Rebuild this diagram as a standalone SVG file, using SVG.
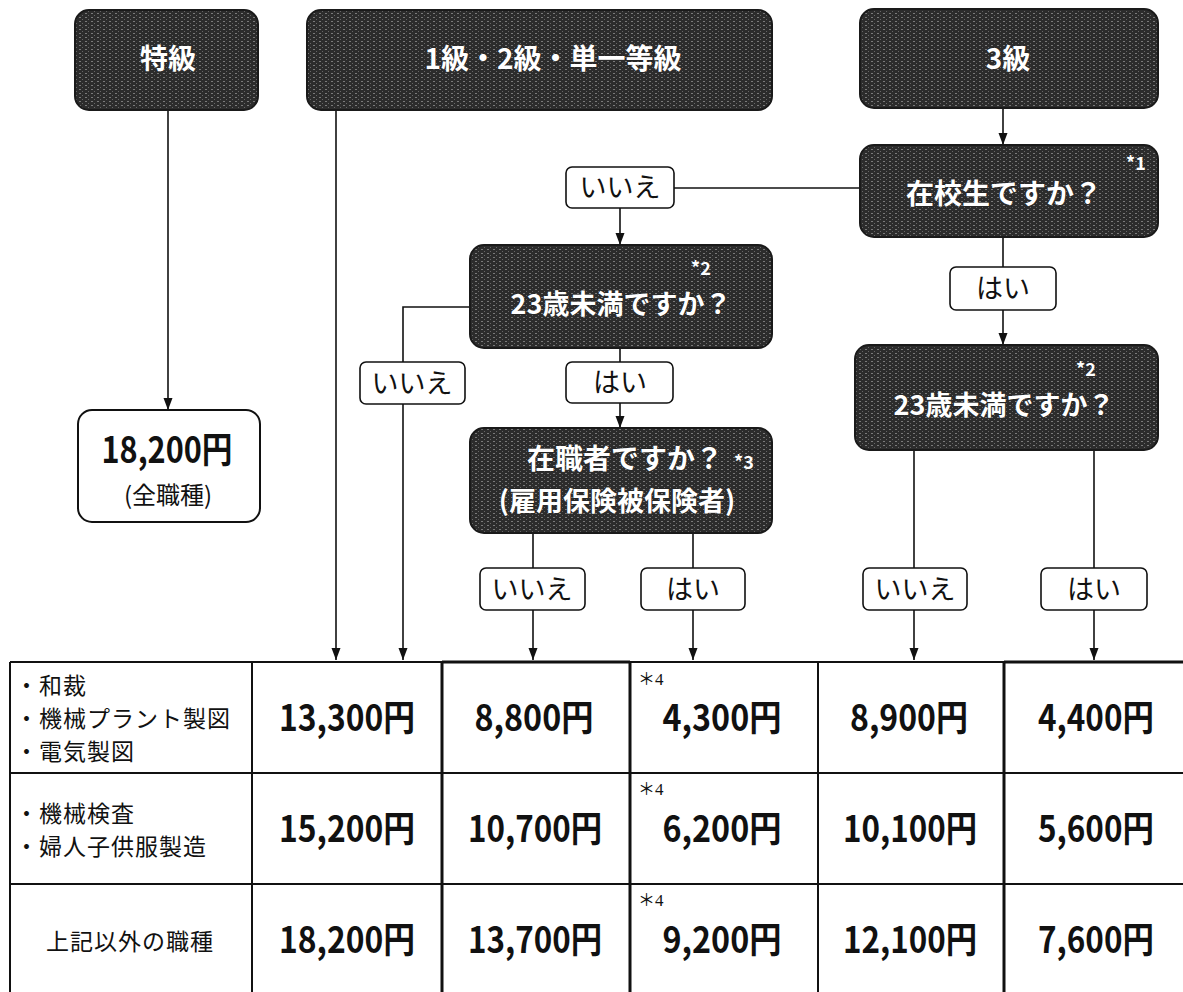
<svg xmlns="http://www.w3.org/2000/svg" width="1183" height="992" viewBox="0 0 1183 992">
<defs>
<pattern id="tex" width="6" height="4" patternUnits="userSpaceOnUse">
<rect width="6" height="4" fill="#2c2c2c"/>
<rect x="1" y="1" width="2" height="1" fill="#7a7a7a"/>
<rect x="4" y="3" width="1" height="1" fill="#666"/>
</pattern>
<marker id="ar" markerWidth="12" markerHeight="10" refX="12" refY="5" orient="auto" markerUnits="userSpaceOnUse" viewBox="0 0 12 10">
<path d="M0,0.5 L12,5 L0,9.5 z" fill="#111"/>
</marker>
<style>
.dark{fill:url(#tex);stroke:#1a1a1a;stroke-width:2}
.wt{font-family:"Noto Sans CJK JP",sans-serif;font-weight:bold;fill:#fff;stroke:#222;stroke-width:0.8;paint-order:stroke;text-anchor:middle}
.note{font-family:"Noto Sans CJK JP",sans-serif;font-weight:bold;fill:#fff;font-size:18px}
.lbl{fill:#fff;stroke:#111;stroke-width:1.6}
.lt{font-family:"Noto Sans CJK JP",sans-serif;font-size:27px;fill:#111;text-anchor:middle}
.ln{fill:none;stroke:#111;stroke-width:1.6}
.val{font-family:"Noto Sans CJK JP",sans-serif;font-weight:bold;font-size:36px;fill:#111;text-anchor:middle}
.rt{font-family:"Noto Sans CJK JP",sans-serif;font-size:23px;letter-spacing:1px;fill:#111}
.ast{font-family:"Liberation Serif","Noto Sans CJK JP",serif;font-size:17px;fill:#111}
.tb{stroke:#111;fill:none}
</style>
</defs>
<rect width="1183" height="992" fill="#fff"/>

<g id="connectors">
<path class="ln" d="M168,110 V410" marker-end="url(#ar)"/>
<path class="ln" d="M336,110 V660" marker-end="url(#ar)"/>
<path class="ln" d="M674,188 H859"/>
<path class="ln" d="M620,208 V245" marker-end="url(#ar)"/>
<path class="ln" d="M470,307 H403 V362"/>
<path class="ln" d="M403,404 V660" marker-end="url(#ar)"/>
<path class="ln" d="M620,348 V362"/>
<path class="ln" d="M620,403 V428" marker-end="url(#ar)"/>
<path class="ln" d="M533,533 V568"/>
<path class="ln" d="M533,610 V660" marker-end="url(#ar)"/>
<path class="ln" d="M693,533 V568"/>
<path class="ln" d="M693,610 V660" marker-end="url(#ar)"/>
<path class="ln" d="M1003,108 V145" marker-end="url(#ar)"/>
<path class="ln" d="M1003,237 V267"/>
<path class="ln" d="M1003,310 V345" marker-end="url(#ar)"/>
<path class="ln" d="M914,450 V568"/>
<path class="ln" d="M914,610 V660" marker-end="url(#ar)"/>
<path class="ln" d="M1094,450 V568"/>
<path class="ln" d="M1094,610 V660" marker-end="url(#ar)"/>
</g>

<g id="node-tokkyu">
<rect class="dark" x="75" y="10" width="183" height="100" rx="14"/>
<text class="wt" x="168" y="69" font-size="28">特級</text>
</g>
<g id="node-1kyu">
<rect class="dark" x="307" y="10" width="465" height="100" rx="14"/>
<text class="wt" x="553" y="69" font-size="28">1級・2級・単一等級</text>
</g>
<g id="node-3kyu">
<rect class="dark" x="860" y="9" width="298" height="99" rx="14"/>
<text class="wt" x="1008" y="69" font-size="28">3級</text>
</g>
<g id="node-18200">
<rect x="78" y="410" width="182" height="112" rx="14" fill="#fff" stroke="#111" stroke-width="2"/>
<text class="val" x="167" y="463" textLength="131" lengthAdjust="spacingAndGlyphs">18,200円</text>
<text x="168" y="504" font-family="Noto Sans CJK JP,sans-serif" font-size="24" fill="#111" text-anchor="middle">(全職種)</text>
</g>
<g id="node-zaikousei">
<rect class="dark" x="860" y="145" width="298" height="92" rx="14"/>
<text class="wt" x="1004" y="204" font-size="28">在校生ですか？</text>
<text class="note" x="1126" y="170">*1</text>
</g>
<g id="label-iie-1">
<rect class="lbl" x="566" y="167" width="108" height="41" rx="6"/>
<text class="lt" x="620" y="197">いいえ</text>
</g>
<g id="node-age-left">
<rect class="dark" x="470" y="245" width="302" height="103" rx="14"/>
<text class="wt" x="621" y="314" font-size="27">23歳未満ですか？</text>
<text class="note" x="691" y="275">*2</text>
</g>
<g id="label-iie-2">
<rect class="lbl" x="360" y="362" width="105" height="42" rx="6"/>
<text class="lt" x="412" y="393">いいえ</text>
</g>
<g id="label-hai-1">
<rect class="lbl" x="566" y="362" width="107" height="41" rx="6"/>
<text class="lt" x="620" y="392">はい</text>
</g>
<g id="node-zaishoku">
<rect class="dark" x="470" y="428" width="302" height="105" rx="14"/>
<text class="wt" x="625" y="469" font-size="28">在職者ですか？</text>
<text class="note" x="734" y="469">*3</text>
<text class="wt" x="617" y="511" font-size="27">(雇用保険被保険者)</text>
</g>
<g id="label-iie-3">
<rect class="lbl" x="480" y="568" width="105" height="42" rx="6"/>
<text class="lt" x="532" y="599">いいえ</text>
</g>
<g id="label-hai-2">
<rect class="lbl" x="641" y="568" width="104" height="42" rx="6"/>
<text class="lt" x="693" y="599">はい</text>
</g>
<g id="label-hai-3">
<rect class="lbl" x="950" y="267" width="106" height="43" rx="6"/>
<text class="lt" x="1003" y="298">はい</text>
</g>
<g id="node-age-right">
<rect class="dark" x="855" y="345" width="303" height="105" rx="14"/>
<text class="wt" x="1004" y="415" font-size="27">23歳未満ですか？</text>
<text class="note" x="1076" y="376">*2</text>
</g>
<g id="label-iie-4">
<rect class="lbl" x="863" y="568" width="104" height="42" rx="6"/>
<text class="lt" x="915" y="599">いいえ</text>
</g>
<g id="label-hai-4">
<rect class="lbl" x="1041" y="568" width="106" height="42" rx="6"/>
<text class="lt" x="1094" y="599">はい</text>
</g>

<g id="table">
<path class="tb" stroke-width="2" d="M10,662 H1183 M10,773 H1183 M10,884 H1183 M10,662 V992 M252,662 V992 M818,662 V992"/>
<path class="tb" stroke-width="3" d="M442,662 V992 M630,662 V992 M1004,662 V992 M442,662 H630 M1004,662 H1183"/>
<text class="rt"><tspan x="15" y="694">・和裁</tspan><tspan x="15" y="727">・機械プラント製図</tspan><tspan x="15" y="760">・電気製図</tspan></text>
<text class="rt"><tspan x="15" y="822">・機械検査</tspan><tspan x="15" y="855">・婦人子供服製造</tspan></text>
<text class="rt" x="130" y="950" text-anchor="middle">上記以外の職種</text>
<text class="ast" x="638" y="685">＊4</text>
<text class="ast" x="638" y="795">＊4</text>
<text class="ast" x="638" y="906">＊4</text>
<text class="val" x="347" y="731" textLength="136" lengthAdjust="spacingAndGlyphs">13,300円</text>
<text class="val" x="534" y="731" textLength="119" lengthAdjust="spacingAndGlyphs">8,800円</text>
<text class="val" x="722" y="731" textLength="119" lengthAdjust="spacingAndGlyphs">4,300円</text>
<text class="val" x="909" y="731" textLength="118" lengthAdjust="spacingAndGlyphs">8,900円</text>
<text class="val" x="1096" y="731" textLength="116" lengthAdjust="spacingAndGlyphs">4,400円</text>
<text class="val" x="347" y="842" textLength="136" lengthAdjust="spacingAndGlyphs">15,200円</text>
<text class="val" x="535" y="842" textLength="134" lengthAdjust="spacingAndGlyphs">10,700円</text>
<text class="val" x="722" y="842" textLength="119" lengthAdjust="spacingAndGlyphs">6,200円</text>
<text class="val" x="910" y="842" textLength="134" lengthAdjust="spacingAndGlyphs">10,100円</text>
<text class="val" x="1096" y="842" textLength="116" lengthAdjust="spacingAndGlyphs">5,600円</text>
<text class="val" x="347" y="953" textLength="136" lengthAdjust="spacingAndGlyphs">18,200円</text>
<text class="val" x="535" y="953" textLength="134" lengthAdjust="spacingAndGlyphs">13,700円</text>
<text class="val" x="722" y="953" textLength="119" lengthAdjust="spacingAndGlyphs">9,200円</text>
<text class="val" x="910" y="953" textLength="134" lengthAdjust="spacingAndGlyphs">12,100円</text>
<text class="val" x="1096" y="953" textLength="116" lengthAdjust="spacingAndGlyphs">7,600円</text>
</g>
</svg>
